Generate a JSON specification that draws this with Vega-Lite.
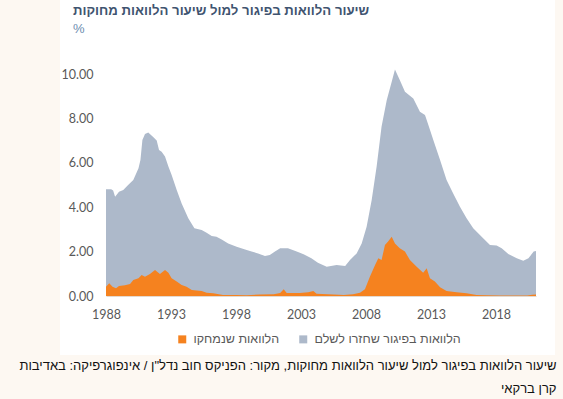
{
  "$schema": "https://vega.github.io/schema/vega-lite/v6.json",
  "autosize": "none",
  "width": 495,
  "height": 355,
  "padding": {"left": 60, "top": 0, "right": 8, "bottom": 44},
  "background": "#fdf8f2",
  "config": {
    "view": {"fill": "white", "stroke": null},
    "font": "Lato, Liberation Sans, sans-serif"
  },
  "title": {
    "text": "שיעור הלוואות בפיגור למול שיעור הלוואות מחוקות",
    "subtitle": "%",
    "anchor": "start",
    "frame": "group",
    "orient": "top",
    "offset": -37,
    "dx": 13,
    "font": "Liberation Sans",
    "fontSize": 13.2,
    "fontWeight": "bold",
    "color": "#3f5470",
    "subtitleFont": "Liberation Sans",
    "subtitleFontSize": 13,
    "subtitleColor": "#6d8db0",
    "subtitlePadding": 5
  },
  "data": {
    "values": [
      {"series": "הלוואות בפיגור שחזרו לשלם", "year": 1988.0, "rate": 4.81},
      {"series": "הלוואות בפיגור שחזרו לשלם", "year": 1988.4, "rate": 4.81},
      {"series": "הלוואות בפיגור שחזרו לשלם", "year": 1988.55, "rate": 4.75},
      {"series": "הלוואות בפיגור שחזרו לשלם", "year": 1988.7, "rate": 4.47},
      {"series": "הלוואות בפיגור שחזרו לשלם", "year": 1989.0, "rate": 4.70},
      {"series": "הלוואות בפיגור שחזרו לשלם", "year": 1989.33, "rate": 4.77},
      {"series": "הלוואות בפיגור שחזרו לשלם", "year": 1989.7, "rate": 5.0},
      {"series": "הלוואות בפיגור שחזרו לשלם", "year": 1990.1, "rate": 5.23},
      {"series": "הלוואות בפיגור שחזרו לשלם", "year": 1990.5, "rate": 5.75},
      {"series": "הלוואות בפיגור שחזרו לשלם", "year": 1990.65, "rate": 6.13},
      {"series": "הלוואות בפיגור שחזרו לשלם", "year": 1990.8, "rate": 7.03},
      {"series": "הלוואות בפיגור שחזרו לשלם", "year": 1991.0, "rate": 7.30},
      {"series": "הלוואות בפיגור שחזרו לשלם", "year": 1991.25, "rate": 7.36},
      {"series": "הלוואות בפיגור שחזרו לשלם", "year": 1991.65, "rate": 7.15},
      {"series": "הלוואות בפיגור שחזרו לשלם", "year": 1991.9, "rate": 7.0},
      {"series": "הלוואות בפיגור שחזרו לשלם", "year": 1992.08, "rate": 6.58},
      {"series": "הלוואות בפיגור שחזרו לשלם", "year": 1992.28, "rate": 6.5},
      {"series": "הלוואות בפיגור שחזרו לשלם", "year": 1992.54, "rate": 6.28},
      {"series": "הלוואות בפיגור שחזרו לשלם", "year": 1992.8, "rate": 5.83},
      {"series": "הלוואות בפיגור שחזרו לשלם", "year": 1993.05, "rate": 5.45},
      {"series": "הלוואות בפיגור שחזרו לשלם", "year": 1993.44, "rate": 4.77},
      {"series": "הלוואות בפיגור שחזרו לשלם", "year": 1993.82, "rate": 4.17},
      {"series": "הלוואות בפיגור שחזרו לשלם", "year": 1994.33, "rate": 3.5},
      {"series": "הלוואות בפיגור שחזרו לשלם", "year": 1994.8, "rate": 3.05},
      {"series": "הלוואות בפיגור שחזרו לשלם", "year": 1995.36, "rate": 2.97},
      {"series": "הלוואות בפיגור שחזרו לשלם", "year": 1995.74, "rate": 2.85},
      {"series": "הלוואות בפיגור שחזרו לשלם", "year": 1996.13, "rate": 2.7},
      {"series": "הלוואות בפיגור שחזרו לשלם", "year": 1996.5, "rate": 2.67},
      {"series": "הלוואות בפיגור שחזרו לשלם", "year": 1996.9, "rate": 2.55},
      {"series": "הלוואות בפיגור שחזרו לשלם", "year": 1997.4, "rate": 2.37},
      {"series": "הלוואות בפיגור שחזרו לשלם", "year": 1998.05, "rate": 2.22},
      {"series": "הלוואות בפיגור שחזרו לשלם", "year": 1998.7, "rate": 2.1},
      {"series": "הלוואות בפיגור שחזרו לשלם", "year": 1999.2, "rate": 2.0},
      {"series": "הלוואות בפיגור שחזרו לשלם", "year": 1999.7, "rate": 1.92},
      {"series": "הלוואות בפיגור שחזרו לשלם", "year": 2000.23, "rate": 1.8},
      {"series": "הלוואות בפיגור שחזרו לשלם", "year": 2000.6, "rate": 1.85},
      {"series": "הלוואות בפיגור שחזרו לשלם", "year": 2001.0, "rate": 2.0},
      {"series": "הלוואות בפיגור שחזרו לשלם", "year": 2001.4, "rate": 2.15},
      {"series": "הלוואות בפיגור שחזרו לשלם", "year": 2002.0, "rate": 2.15},
      {"series": "הלוואות בפיגור שחזרו לשלם", "year": 2002.67, "rate": 2.0},
      {"series": "הלוואות בפיגור שחזרו לשלם", "year": 2003.2, "rate": 1.88},
      {"series": "הלוואות בפיגור שחזרו לשלם", "year": 2003.8, "rate": 1.7},
      {"series": "הלוואות בפיגור שחזרו לשלם", "year": 2004.3, "rate": 1.5},
      {"series": "הלוואות בפיגור שחזרו לשלם", "year": 2004.98, "rate": 1.32},
      {"series": "הלוואות בפיגור שחזרו לשלם", "year": 2005.74, "rate": 1.40},
      {"series": "הלוואות בפיגור שחזרו לשלם", "year": 2006.4, "rate": 1.35},
      {"series": "הלוואות בפיגור שחזרו לשלם", "year": 2006.77, "rate": 1.62},
      {"series": "הלוואות בפיגור שחזרו לשלם", "year": 2007.28, "rate": 1.92},
      {"series": "הלוואות בפיגור שחזרו לשלם", "year": 2007.67, "rate": 2.37},
      {"series": "הלוואות בפיגור שחזרו לשלם", "year": 2008.05, "rate": 3.12},
      {"series": "הלוואות בפיגור שחזרו לשלם", "year": 2008.44, "rate": 4.32},
      {"series": "הלוואות בפיגור שחזרו לשלם", "year": 2008.82, "rate": 5.83},
      {"series": "הלוואות בפיגור שחזרו לשלם", "year": 2009.2, "rate": 7.63},
      {"series": "הלוואות בפיגור שחזרו לשלם", "year": 2009.6, "rate": 8.83},
      {"series": "הלוואות בפיגור שחזרו לשלם", "year": 2009.98, "rate": 9.65},
      {"series": "הלוואות בפיגור שחזרו לשלם", "year": 2010.23, "rate": 10.2},
      {"series": "הלוואות בפיגור שחזרו לשלם", "year": 2010.6, "rate": 9.73},
      {"series": "הלוואות בפיגור שחזרו לשלם", "year": 2011.0, "rate": 9.2},
      {"series": "הלוואות בפיגור שחזרו לשלם", "year": 2011.64, "rate": 8.9},
      {"series": "הלוואות בפיגור שחזרו לשלם", "year": 2012.15, "rate": 8.3},
      {"series": "הלוואות בפיגור שחזרו לשלם", "year": 2012.54, "rate": 8.15},
      {"series": "הלוואות בפיגור שחזרו לשלם", "year": 2012.8, "rate": 7.7},
      {"series": "הלוואות בפיגור שחזרו לשלם", "year": 2013.18, "rate": 7.03},
      {"series": "הלוואות בפיגור שחזרו לשלם", "year": 2013.7, "rate": 6.13},
      {"series": "הלוואות בפיגור שחזרו לשלם", "year": 2014.2, "rate": 5.23},
      {"series": "הלוואות בפיגור שחזרו לשלם", "year": 2014.7, "rate": 4.63},
      {"series": "הלוואות בפיגור שחזרו לשלם", "year": 2015.23, "rate": 4.02},
      {"series": "הלוואות בפיגור שחזרו לשלם", "year": 2015.74, "rate": 3.5},
      {"series": "הלוואות בפיגור שחזרו לשלם", "year": 2016.25, "rate": 3.05},
      {"series": "הלוואות בפיגור שחזרו לשלם", "year": 2016.9, "rate": 2.67},
      {"series": "הלוואות בפיגור שחזרו לשלם", "year": 2017.54, "rate": 2.30},
      {"series": "הלוואות בפיגור שחזרו לשלם", "year": 2018.05, "rate": 2.27},
      {"series": "הלוואות בפיגור שחזרו לשלם", "year": 2018.44, "rate": 2.15},
      {"series": "הלוואות בפיגור שחזרו לשלם", "year": 2018.95, "rate": 1.89},
      {"series": "הלוואות בפיגור שחזרו לשלם", "year": 2019.6, "rate": 1.70},
      {"series": "הלוואות בפיגור שחזרו לשלם", "year": 2020.1, "rate": 1.59},
      {"series": "הלוואות בפיגור שחזרו לשלם", "year": 2020.5, "rate": 1.70},
      {"series": "הלוואות בפיגור שחזרו לשלם", "year": 2020.9, "rate": 2.0},
      {"series": "הלוואות בפיגור שחזרו לשלם", "year": 2021.08, "rate": 2.03},
      {"series": "הלוואות שנמחקו", "year": 1988.0, "rate": 0.42},
      {"series": "הלוואות שנמחקו", "year": 1988.25, "rate": 0.57},
      {"series": "הלוואות שנמחקו", "year": 1988.5, "rate": 0.42},
      {"series": "הלוואות שנמחקו", "year": 1988.77, "rate": 0.35},
      {"series": "הלוואות שנמחקו", "year": 1989.0, "rate": 0.45},
      {"series": "הלוואות שנמחקו", "year": 1989.46, "rate": 0.48},
      {"series": "הלוואות שנמחקו", "year": 1989.85, "rate": 0.54},
      {"series": "הלוואות שנמחקו", "year": 1990.1, "rate": 0.72},
      {"series": "הלוואות שנמחקו", "year": 1990.5, "rate": 0.8},
      {"series": "הלוואות שנמחקו", "year": 1990.74, "rate": 0.95},
      {"series": "הלוואות שנמחקו", "year": 1991.0, "rate": 0.87},
      {"series": "הלוואות שנמחקו", "year": 1991.38, "rate": 0.99},
      {"series": "הלוואות שנמחקו", "year": 1991.77, "rate": 1.17},
      {"series": "הלוואות שנמחקו", "year": 1992.15, "rate": 0.99},
      {"series": "הלוואות שנמחקו", "year": 1992.54, "rate": 1.17},
      {"series": "הלוואות שנמחקו", "year": 1992.8, "rate": 1.05},
      {"series": "הלוואות שנמחקו", "year": 1993.05, "rate": 0.80},
      {"series": "הלוואות שנמחקו", "year": 1993.44, "rate": 0.65},
      {"series": "הלוואות שנמחקו", "year": 1993.82, "rate": 0.50},
      {"series": "הלוואות שנמחקו", "year": 1994.2, "rate": 0.42},
      {"series": "הלוואות שנמחקו", "year": 1994.6, "rate": 0.27},
      {"series": "הלוואות שנמחקו", "year": 1995.36, "rate": 0.23},
      {"series": "הלוואות שנמחקו", "year": 1995.74, "rate": 0.15},
      {"series": "הלוואות שנמחקו", "year": 1996.25, "rate": 0.12},
      {"series": "הלוואות שנמחקו", "year": 1997.0, "rate": 0.05},
      {"series": "הלוואות שנמחקו", "year": 1998.05, "rate": 0.05},
      {"series": "הלוואות שנמחקו", "year": 1998.8, "rate": 0.03},
      {"series": "הלוואות שנמחקו", "year": 1999.85, "rate": 0.07},
      {"series": "הלוואות שנמחקו", "year": 2000.9, "rate": 0.08},
      {"series": "הלוואות שנמחקו", "year": 2001.4, "rate": 0.14},
      {"series": "הלוואות שנמחקו", "year": 2001.67, "rate": 0.30},
      {"series": "הלוואות שנמחקו", "year": 2001.9, "rate": 0.14},
      {"series": "הלוואות שנמחקו", "year": 2002.9, "rate": 0.14},
      {"series": "הלוואות שנמחקו", "year": 2003.56, "rate": 0.17},
      {"series": "הלוואות שנמחקו", "year": 2003.95, "rate": 0.22},
      {"series": "הלוואות שנמחקו", "year": 2004.2, "rate": 0.1},
      {"series": "הלוואות שנמחקו", "year": 2005.5, "rate": 0.07},
      {"series": "הלוואות שנמחקו", "year": 2006.3, "rate": 0.05},
      {"series": "הלוואות שנמחקו", "year": 2007.0, "rate": 0.08},
      {"series": "הלוואות שנמחקו", "year": 2007.54, "rate": 0.15},
      {"series": "הלוואות שנמחקו", "year": 2007.92, "rate": 0.30},
      {"series": "הלוואות שנמחקו", "year": 2008.3, "rate": 0.87},
      {"series": "הלוואות שנמחקו", "year": 2008.7, "rate": 1.40},
      {"series": "הלוואות שנמחקו", "year": 2008.95, "rate": 1.70},
      {"series": "הלוואות שנמחקו", "year": 2009.2, "rate": 1.62},
      {"series": "הלוואות שנמחקו", "year": 2009.46, "rate": 2.30},
      {"series": "הלוואות שנמחקו", "year": 2009.7, "rate": 2.45},
      {"series": "הלוואות שנמחקו", "year": 2009.98, "rate": 2.67},
      {"series": "הלוואות שנמחקו", "year": 2010.23, "rate": 2.37},
      {"series": "הלוואות שנמחקו", "year": 2010.6, "rate": 2.15},
      {"series": "הלוואות שנמחקו", "year": 2011.0, "rate": 2.0},
      {"series": "הלוואות שנמחקו", "year": 2011.38, "rate": 1.62},
      {"series": "הלוואות שנמחקו", "year": 2011.9, "rate": 1.32},
      {"series": "הלוואות שנמחקו", "year": 2012.4, "rate": 1.05},
      {"series": "הלוואות שנמחקו", "year": 2012.67, "rate": 1.25},
      {"series": "הלוואות שנמחקו", "year": 2012.92, "rate": 0.80},
      {"series": "הלוואות שנמחקו", "year": 2013.3, "rate": 0.65},
      {"series": "הלוואות שנמחקו", "year": 2013.7, "rate": 0.39},
      {"series": "הלוואות שנמחקו", "year": 2014.2, "rate": 0.22},
      {"series": "הלוואות שנמחקו", "year": 2014.97, "rate": 0.17},
      {"series": "הלוואות שנמחקו", "year": 2015.74, "rate": 0.12},
      {"series": "הלוואות שנמחקו", "year": 2016.5, "rate": 0.05},
      {"series": "הלוואות שנמחקו", "year": 2017.3, "rate": 0.03},
      {"series": "הלוואות שנמחקו", "year": 2018.3, "rate": 0.02},
      {"series": "הלוואות שנמחקו", "year": 2020.4, "rate": 0.02},
      {"series": "הלוואות שנמחקו", "year": 2020.8, "rate": 0.06},
      {"series": "הלוואות שנמחקו", "year": 2021.08, "rate": 0.07}
    ]
  },
  "encoding": {
    "x": {
      "field": "year",
      "type": "quantitative",
      "scale": {"domain": [1988, 2021.08], "range": [46, 476], "nice": false, "zero": false},
      "axis": {
        "values": [1988, 1993, 1998, 2003, 2008, 2013, 2018],
        "format": "d",
        "offset": -59,
        "ticks": false,
        "grid": false,
        "domain": true,
        "domainColor": "#e3d9cf",
        "labelPadding": 12,
        "labelFlush": false,
        "labelOverlap": false,
        "labelFontSize": 12.5,
        "labelColor": "#595959",
        "labelFont": "Lato",
        "title": ["שיעור הלוואות בפיגור למול שיעור הלוואות מחוקות, מקור: הפניקס חוב נדל\"ן / אינפוגרפיקה: באדיבות", "קרן ברקאי"],
        "titleX": 496,
        "titleY": 63,
        "titleAlign": "right",
        "titleAnchor": null,
        "titleBaseline": "top",
        "titleFont": "Liberation Sans",
        "titleFontSize": 13,
        "titleFontWeight": "normal",
        "titleColor": "#111111",
        "titleLineHeight": 23
      }
    },
    "y": {
      "field": "rate",
      "type": "quantitative",
      "scale": {"domain": [0, 10], "range": [296, 74], "nice": false},
      "axis": {
        "values": [0, 2, 4, 6, 8, 10],
        "format": ".2f",
        "offset": -46,
        "ticks": false,
        "grid": false,
        "domain": false,
        "labelPadding": 13,
        "labelFontSize": 12.5,
        "labelColor": "#595959",
        "labelFont": "Lato",
        "title": null
      }
    },
    "color": {
      "field": "series",
      "type": "nominal",
      "scale": {
        "domain": ["הלוואות שנמחקו", "הלוואות בפיגור שחזרו לשלם"],
        "range": ["#f5821f", "#adb9ca"]
      },
      "legend": {
        "title": null,
        "orient": "none",
        "direction": "horizontal",
        "legendX": 116,
        "legendY": 333,
        "symbolType": "square",
        "symbolSize": 64,
        "symbolStrokeWidth": 0,
        "symbolOpacity": 1,
        "labelFont": "Liberation Sans",
        "labelFontSize": 12.5,
        "labelColor": "#595959",
        "labelOffset": 5,
        "columnPadding": 17,
        "padding": 0
      }
    }
  },
  "layer": [
    {
      "transform": [{"filter": "datum.series === 'הלוואות בפיגור שחזרו לשלם'"}],
      "mark": {"type": "area", "opacity": 1, "interpolate": "linear"}
    },
    {
      "transform": [{"filter": "datum.series === 'הלוואות שנמחקו'"}],
      "mark": {"type": "area", "opacity": 1, "interpolate": "linear"}
    }
  ]
}
